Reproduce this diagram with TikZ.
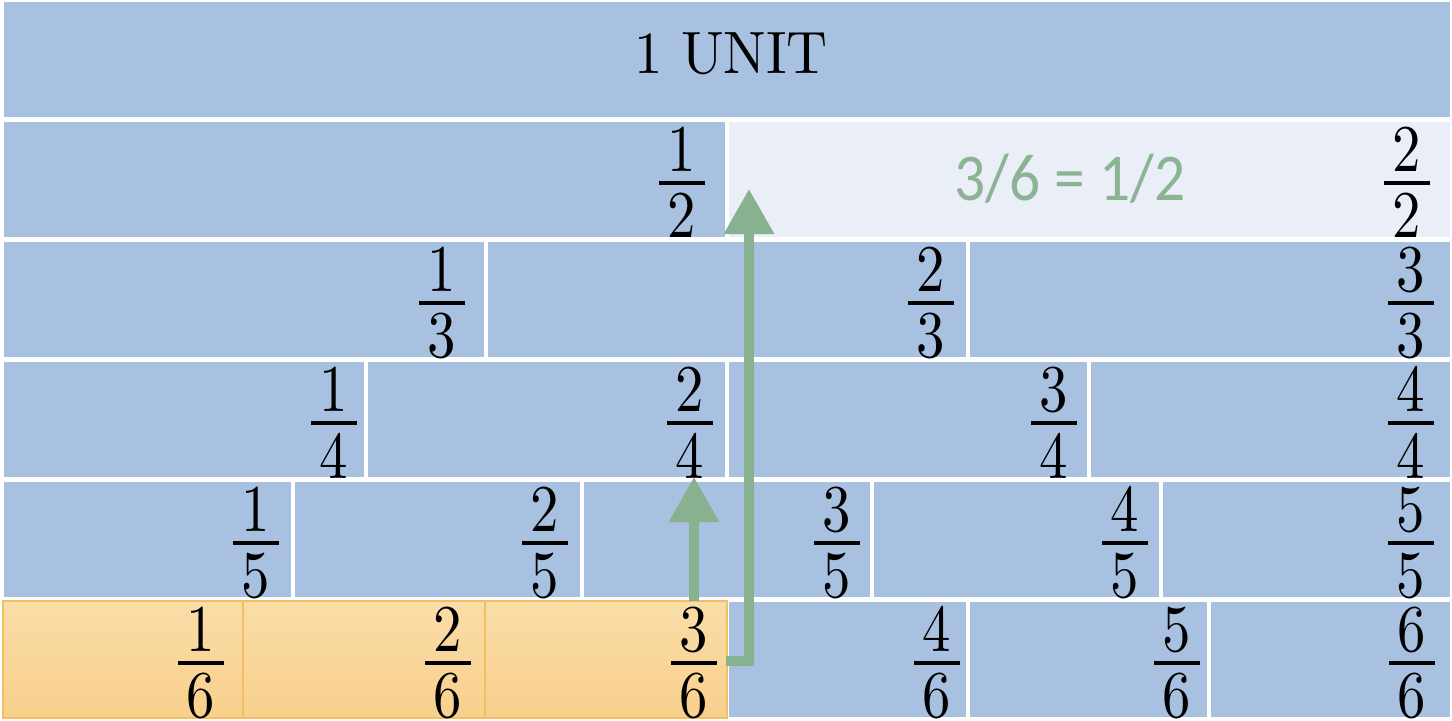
\documentclass[tikz,border=0pt]{standalone}
\usepackage{fontspec}
\usepackage{graphicx}
\newfontfamily\carlito{Carlito}
\newfontfamily\lmten{lmroman10-regular}[Extension=.otf]
\usetikzlibrary{arrows.meta}
\definecolor{cellblue}{HTML}{A9C1E1}
\definecolor{celllight}{HTML}{E9EEF7}
\definecolor{yeltop}{HTML}{FADDA8}
\definecolor{yelbot}{HTML}{F8D08C}
\definecolor{yelline}{HTML}{F2C063}
\definecolor{sage}{HTML}{88B28F}
\definecolor{sagetext}{HTML}{8BB394}
\newcommand{\frc}[5]{%
  \draw[fbar] ({#2-23},#3) -- ({#2+23},#3);
  \node[dig,anchor=base] (#1n) at (#2,{#3-11}) {\scalebox{0.85}[1]{#4}};
  \node[dig,anchor=north] (#1d) at (#2,{#3+10}) {\scalebox{0.85}[1]{#5}};}
\begin{document}
\begin{tikzpicture}[x=0.01cm,y=-0.01cm,
  dig/.style={inner sep=0pt,font=\lmten\fontsize{19}{23}\selectfont},
  fbar/.style={line width=0.04cm,black},
  garrow/.style={draw=sage,line width=0.095cm,-{Triangle[width=0.48cm,length=0.45cm]}},
  yelcell/.style={draw=yelline,line width=0.025cm,top color=yeltop,bottom color=yelbot}]
\useasboundingbox (0,0) rectangle (1452,720);
\fill[white] (0,0) rectangle (1452,720);
% blue cells
\foreach \n in {1,...,6}{
  \pgfmathsetmacro{\ytop}{2+120*(\n-1)}
  \pgfmathsetmacro{\ybot}{117+120*(\n-1)}
  \pgfmathtruncatemacro{\m}{\n-1}
  \foreach \j in {0,...,\m}{
    \pgfmathsetmacro{\xl}{4+\j*1446/\n+(\j>0?2:0)}
    \pgfmathsetmacro{\xr}{4+(\j+1)*1446/\n-(\j<\m?2:0)}
    \fill[cellblue] (\xl,\ytop) rectangle (\xr,\ybot);
  }
}
% highlighted cells
\fill[celllight] (729,122) rectangle (1450,237);
\path[yelcell] (3,601) rectangle (243,718);
\path[yelcell] (243,601) rectangle (485,718);
\path[yelcell] (485,601) rectangle (727,718);
% texts
\node[inner sep=0pt,font=\lmten\fontsize{17}{20}\selectfont] (unit) at (731,54) {\scalebox{0.95}[1]{1 UNIT}};
\node[inner sep=0pt,anchor=base,text=sagetext,font=\carlito\fontsize{19}{22}\selectfont] (eq) at (1070,200) {\scalebox{0.92}[1]{3/6 = 1/2}};
% fractions
\frc{f12}{682}{182.5}{1}{2}
\frc{f22}{1407}{182.5}{2}{2}
\frc{f13}{442}{302.5}{1}{3}
\frc{f23}{931}{302.5}{2}{3}
\frc{f33}{1411}{302.5}{3}{3}
\frc{f14}{334}{422.5}{1}{4}
\frc{f24}{690}{422.5}{2}{4}
\frc{f34}{1054}{422.5}{3}{4}
\frc{f44}{1411}{422.5}{4}{4}
\frc{f15}{256}{542.5}{1}{5}
\frc{f25}{545}{542.5}{2}{5}
\frc{f35}{837}{542.5}{3}{5}
\frc{f45}{1125}{542.5}{4}{5}
\frc{f55}{1411}{542.5}{5}{5}
\frc{f16}{201}{662.5}{1}{6}
\frc{f26}{448}{662.5}{2}{6}
\frc{f36}{694}{662.5}{3}{6}
\frc{f46}{937}{662.5}{4}{6}
\frc{f56}{1177}{662.5}{5}{6}
\frc{f66}{1412}{662.5}{6}{6}
% arrows
\coordinate (a1s) at (694,601);
\coordinate (a1e) at (694,477);
\coordinate (a2s) at (726,661);
\coordinate (a2e) at (749,189);
\draw[garrow] (a1s) -- (a1e);
\draw[garrow] (a2s) -| (a2e);
\end{tikzpicture}
\end{document}
